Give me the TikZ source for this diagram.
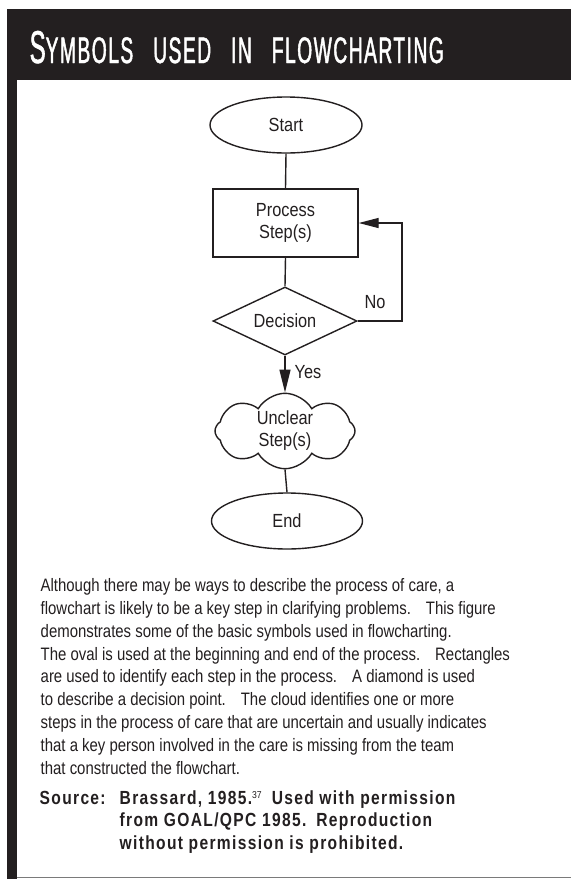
\documentclass[tikz,border=0pt]{standalone}
\usepackage{fontspec}
\setmainfont{Liberation Sans}
\newfontfamily\titlefont[FakeStretch=0.52,LetterSpace=4,FakeBold=1.2]{Liberation Sans}
\newfontfamily\bodyfont[FakeStretch=0.83]{Liberation Sans}
\newfontfamily\labelfont[FakeStretch=0.86]{Liberation Sans}
\newfontfamily\srcfont[FakeStretch=0.82,LetterSpace=7]{Liberation Sans Bold}
\usetikzlibrary{shapes.geometric,shapes.symbols,arrows.meta}
\definecolor{ink}{HTML}{231F20}
\definecolor{rulegray}{HTML}{7A7A7A}
\newcommand{\gap}{\hspace{15pt}}

\begin{document}
\begin{tikzpicture}[x=1pt,y=-1pt,
  line width=1.4pt, draw=ink,
  every node/.style={inner sep=0pt, text=ink},
  lbl/.style={font=\labelfont\fontsize{19}{22}\selectfont},
  oval/.style={lbl, draw, ellipse, minimum width=152pt, minimum height=56pt},
  procbox/.style={lbl, draw, rectangle, minimum width=145pt, minimum height=68pt, align=center},
  decbox/.style={lbl, draw, diamond, aspect=2.1, minimum width=144pt, minimum height=68pt},
  cloudbox/.style={lbl, draw, cloud, cloud puffs=8, cloud puff arc=120, aspect=1.9,
    minimum width=140pt, minimum height=72pt, align=center},
  flow/.style={line width=1.4pt},
  tip/.style={-{Triangle[length=20pt,width=10pt]}},
  downtip/.style={-{Triangle[length=23pt,width=11pt]}}
]
% page and frame
\useasboundingbox (0,0) rectangle (571,879);
\fill[white] (0,0) rectangle (571,879);
\fill[ink] (7,9) rectangle (571,80);
\fill[ink] (7,80) rectangle (17,879);
\draw[rulegray, line width=1.5pt] (17,877.5) -- (571,877.5);

% heading
\node[anchor=base west, text=white, font=\titlefont] (title) at (29,63)
  {\fontsize{46}{46}\selectfont S\fontsize{37}{37}\selectfont YMBOLS\hspace{20pt}USED\hspace{20pt}IN\hspace{20pt}FLOWCHARTING};

% flowchart symbols
\node[oval] (start) at (286,125) {Start};
\node[procbox] (proc) at (285.5,223) {Process\\Step(s)};
\node[decbox] (dec) at (285,321) {Decision};
\node[cloudbox] (unclear) at (285,431) {Unclear\\Step(s)};
\node[oval, minimum width=151pt] (end) at (287,521) {End};
\coordinate (loop) at (402,223);

\draw[flow] (start.south) -- (proc.north);
\draw[flow] (proc.south) -- (dec.north);
\draw[flow, downtip] (dec.south) -- (unclear.north);
\draw[flow] (unclear.south) -- (end.north);
\draw[flow, tip] (dec.east) -| (loop) -- (proc.east);

\node[lbl] (no) at (375,302) {No};
\node[lbl] (yes) at (308,372) {Yes};

% explanatory text
\node[anchor=north west, align=left, font=\bodyfont\fontsize{18}{22.8}\selectfont] (para) at (40,578)
  {Although there may be ways to describe the process of care, a\\
   flowchart is likely to be a key step in clarifying problems.\gap This figure\\
   demonstrates some of the basic symbols used in flowcharting.\\
   The oval is used at the beginning and end of the process.\gap Rectangles\\
   are used to identify each step in the process.\gap A diamond is used\\
   to describe a decision point.\gap The cloud identifies one or more\\
   steps in the process of care that are uncertain and usually indicates\\
   that a key person involved in the care is missing from the team\\
   that constructed the flowchart.};

\node[anchor=base west, font=\srcfont\fontsize{19}{22.5}\selectfont] (srclabel) at (39,804) {Source:};
\node[anchor=north west, align=left, font=\srcfont\fontsize{19}{22.5}\selectfont] (src) at (119,790)
  {Brassard, 1985.\raisebox{6pt}{\labelfont\fontsize{10}{10}\selectfont 37}\hspace{10pt}Used with permission\\
   from GOAL/QPC 1985.\hspace{10pt}Reproduction\\
   without permission is prohibited.};
\end{tikzpicture}
\end{document}
